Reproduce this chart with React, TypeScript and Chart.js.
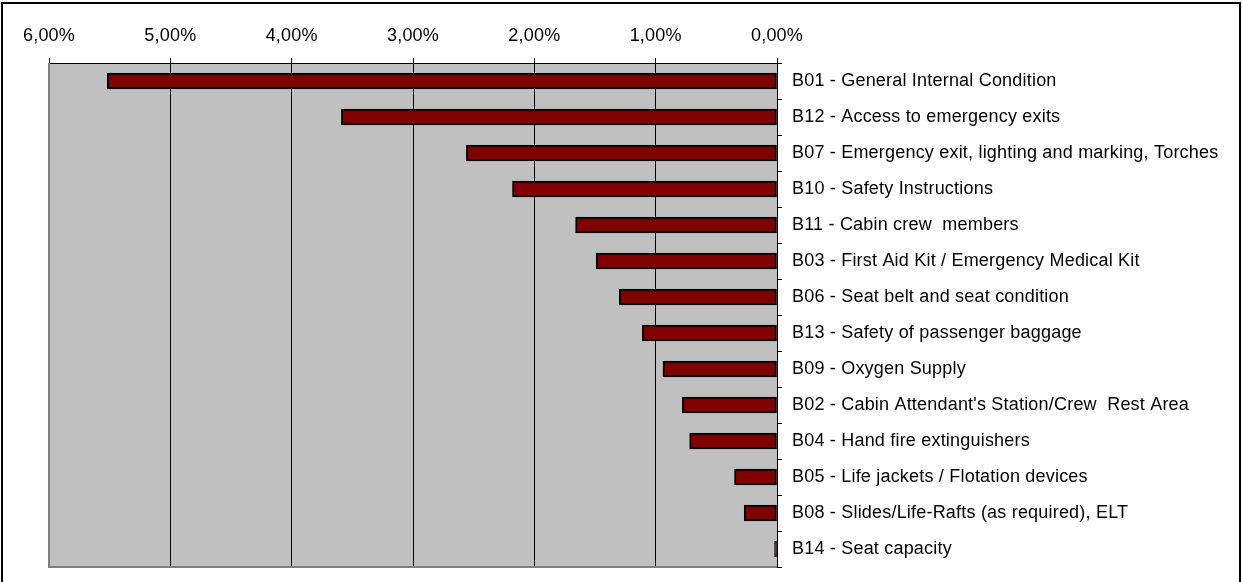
import React, { useEffect, useRef } from "react";
import { Chart, registerables } from "chart.js";

Chart.register(...registerables);

const categories = [
  "B01 - General Internal Condition",
  "B12 - Access to emergency exits",
  "B07 - Emergency exit, lighting and marking, Torches",
  "B10 - Safety Instructions",
  "B11 - Cabin crew  members",
  "B03 - First Aid Kit / Emergency Medical Kit",
  "B06 - Seat belt and seat condition",
  "B13 - Safety of passenger baggage",
  "B09 - Oxygen Supply",
  "B02 - Cabin Attendant's Station/Crew  Rest Area",
  "B04 - Hand fire extinguishers",
  "B05 - Life jackets / Flotation devices",
  "B08 - Slides/Life-Rafts (as required), ELT",
  "B14 - Seat capacity",
];

const values = [5.52, 3.59, 2.56, 2.18, 1.66, 1.49, 1.3, 1.11, 0.94, 0.78, 0.72, 0.35, 0.27, 0.02];

const xTickLabels = ["0,00%", "1,00%", "2,00%", "3,00%", "4,00%", "5,00%", "6,00%"];

const FONT = "'Liberation Sans', Arial, sans-serif";

const setSpacing = (chart: any) => {
  try {
    chart.ctx.letterSpacing = "0.2px";
  } catch (e) {}
};

const decorPlugin = {
  id: "decor",
  beforeUpdate(chart: any) {
    setSpacing(chart);
  },
  beforeLayout(chart: any) {
    setSpacing(chart);
  },
  beforeDraw(chart: any) {
    setSpacing(chart);
    const { ctx, chartArea } = chart;
    ctx.save();
    ctx.fillStyle = "#ffffff";
    ctx.fillRect(0, 0, chart.width, chart.height);
    ctx.fillStyle = "#C0C0C0";
    ctx.fillRect(chartArea.left, chartArea.top, chartArea.right - chartArea.left, chartArea.bottom - chartArea.top);
    ctx.restore();
  },
  afterDatasetsDraw(chart: any) {
    const { ctx, chartArea } = chart;
    ctx.save();
    ctx.strokeStyle = "#808080";
    ctx.lineWidth = 2;
    ctx.beginPath();
    ctx.moveTo(chartArea.left, chartArea.top);
    ctx.lineTo(chartArea.left, chartArea.bottom);
    ctx.lineTo(chartArea.right, chartArea.bottom);
    ctx.stroke();
    ctx.restore();
  },
  afterDraw(chart: any) {
    const { ctx } = chart;
    ctx.save();
    ctx.fillStyle = "#000";
    ctx.fillRect(1, 2, 2, 590);
    ctx.fillRect(1, 2, 1240, 2);
    ctx.fillRect(1239, 2, 2, 590);
    ctx.restore();
  },
};

export default function App() {
  const ref = useRef<HTMLCanvasElement>(null);
  useEffect(() => {
    if (!ref.current) return;
    const chart = new Chart(ref.current, {
      type: "bar",
      data: {
        labels: categories,
        datasets: [
          {
            data: values,
            backgroundColor: "#800000",
            borderColor: "#000000",
            borderWidth: 2,
            borderSkipped: false,
            barThickness: 16,
          },
        ],
      },
      options: {
        indexAxis: "y",
        responsive: false,
        animation: false,
        layout: { padding: { left: 49, right: 0, top: 0, bottom: 15 } },
        plugins: { legend: { display: false }, tooltip: { enabled: false } },
        scales: {
          x: {
            position: "top",
            reverse: true,
            min: 0,
            max: 6,
            afterFit: (s: any) => {
              s.height = 63;
            },
            ticks: {
              stepSize: 1,
              color: "#000",
              padding: 11,
              maxRotation: 0,
              font: { family: FONT, size: 18 },
              callback: (v: any) => xTickLabels[Math.round(Number(v))],
            },
            grid: {
              color: (c: any) => (c.tick && c.tick.value === 6 ? "rgba(0,0,0,0)" : "#000"),
              tickColor: "#000",
              tickLength: 5,
              lineWidth: 1,
            },
            border: { display: true, color: "#000", width: 1 },
          },
          y: {
            position: "right",
            afterFit: (s: any) => {
              s.width = 1242 - 777;
              s.paddingTop = 0;
              s.paddingBottom = 0;
            },
            ticks: {
              color: "#000",
              padding: 10,
              font: { family: FONT, size: 18 },
              autoSkip: false,
            },
            grid: {
              drawOnChartArea: false,
              tickColor: "#000",
              tickLength: 5,
              offset: true,
            },
            border: { display: true, color: "#000", width: 1 },
          },
        },
      },
      plugins: [decorPlugin],
    });
    return () => chart.destroy();
  }, []);
  return (
    <div style={{ position: "fixed", left: 0, top: 0, width: 1242, height: 582, background: "#fff" }}>
      <canvas ref={ref} width={1242} height={582} style={{ width: 1242, height: 582, display: "block" }} />
    </div>
  );
}
